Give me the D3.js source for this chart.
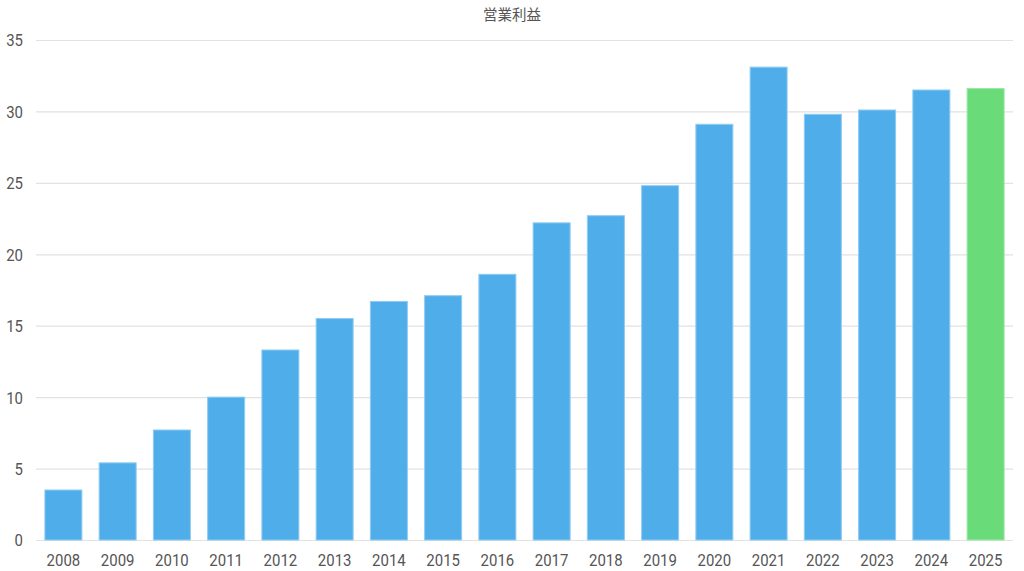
<!DOCTYPE html>
<html><head><meta charset="utf-8">
<script src="https://cdn.jsdelivr.net/npm/d3@7"></script>
<style>body{margin:0;background:#fff}svg{display:block}</style>
</head><body>
<svg id="c" width="1024" height="571"></svg>
<script>
const categories = ["2008","2009","2010","2011","2012","2013","2014","2015","2016","2017","2018","2019","2020","2021","2022","2023","2024","2025"];
const values = [3.5,5.4,7.7,10.0,13.3,15.5,16.7,17.1,18.6,22.2,22.7,24.8,29.1,33.1,29.8,30.1,31.5,31.6];
const yTicks = [0,5,10,15,20,25,30,35];
const title = "営業利益";
const highlight = "2025";

const svg = d3.select("#c");
const x = d3.scaleBand().domain(categories).range([36,1013]).paddingInner(0.318).paddingOuter(0.164);
const y = d3.scaleLinear().domain([0,35]).range([540,40]);

svg.append("text").attr("x",512).attr("y",20).attr("text-anchor","middle")
  .attr("font-family","'Noto Sans CJK JP', sans-serif").attr("font-size",14.5).attr("fill","#555").text(title);

svg.append("g").selectAll("line").data(yTicks).join("line")
  .attr("x1",36).attr("x2",1013).attr("y1",d=>y(d)+0.5).attr("y2",d=>y(d)+0.5)
  .attr("stroke","#e2e2e2").attr("stroke-width",1.2);

const yAxis = svg.append("g").attr("transform","translate(23,0)")
  .call(d3.axisLeft(y).tickValues(yTicks).tickSize(0).tickPadding(0));
yAxis.select(".domain").remove();
yAxis.selectAll("text").attr("font-family","Roboto, sans-serif").attr("font-size",17).attr("fill","#555")
  .attr("transform","scale(0.88,1)").attr("x",0).attr("dy","0.35em");

svg.append("g").selectAll("rect").data(categories).join("rect")
  .attr("x",d=>x(d)).attr("width",x.bandwidth())
  .attr("y",(d,i)=>y(values[i])).attr("height",(d,i)=>y(0)-y(values[i]))
  .attr("fill",d=>d===highlight?"#69DB79":"#4FADEA")
  .attr("stroke",d=>d===highlight?"#9be8a6":"#8fcbf2").attr("stroke-width",1);

const xAxis = svg.append("g").attr("transform","translate(0,541)")
  .call(d3.axisBottom(x).tickSize(0).tickPadding(0));
xAxis.select(".domain").remove();
xAxis.selectAll("text").attr("font-family","Roboto, sans-serif").attr("font-size",17).attr("fill","#555")
  .attr("y",0).attr("dy","0")
  .attr("transform","translate(0,25) scale(0.88,1)");
</script>
</body></html>
